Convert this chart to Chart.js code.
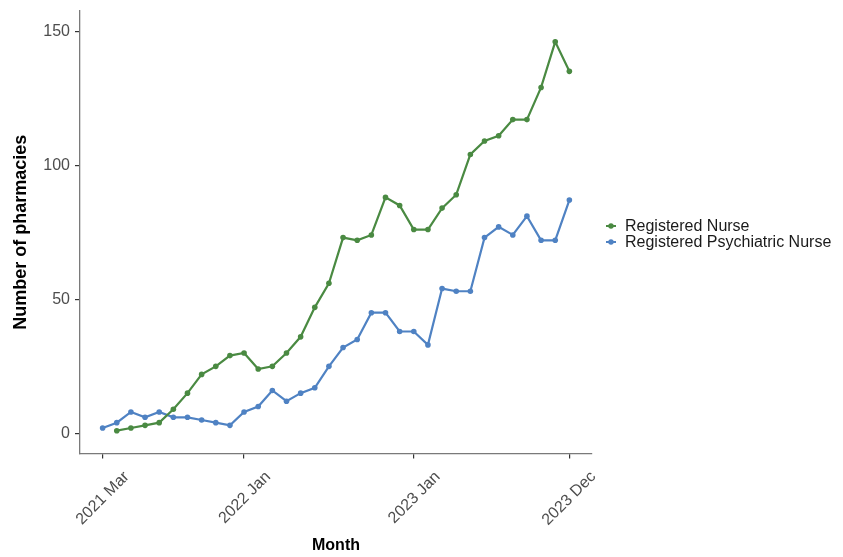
<!DOCTYPE html>
<html>
<head>
<meta charset="utf-8">
<script src="https://cdn.jsdelivr.net/npm/chart.js@4.4.1/dist/chart.umd.min.js"></script>
<style>
  html, body { margin: 0; padding: 0; background: #ffffff; }
  canvas { display: block; }
</style>
</head>
<body>
<canvas id="chart" width="843" height="557"></canvas>
<script>
// Monthly counts, March 2021 to December 2023
const months = [
  '2021 Mar', '2021 Apr', '2021 May', '2021 Jun', '2021 Jul', '2021 Aug',
  '2021 Sep', '2021 Oct', '2021 Nov', '2021 Dec',
  '2022 Jan', '2022 Feb', '2022 Mar', '2022 Apr', '2022 May', '2022 Jun',
  '2022 Jul', '2022 Aug', '2022 Sep', '2022 Oct', '2022 Nov', '2022 Dec',
  '2023 Jan', '2023 Feb', '2023 Mar', '2023 Apr', '2023 May', '2023 Jun',
  '2023 Jul', '2023 Aug', '2023 Sep', '2023 Oct', '2023 Nov', '2023 Dec'
];

const registeredNurse = [
  null, 1, 2, 3, 4, 9, 15, 22, 25, 29,
  30, 24, 25, 30, 36, 47, 56, 73, 72, 74, 88, 85,
  76, 76, 84, 89, 104, 109, 111, 117, 117, 129, 146, 135
];

const registeredPsychiatricNurse = [
  2, 4, 8, 6, 8, 6, 6, 5, 4, 3,
  8, 10, 16, 12, 15, 17, 25, 32, 35, 45, 45, 38,
  38, 33, 54, 53, 53, 73, 77, 74, 81, 72, 72, 87
];

const xTickMonths = ['2021 Mar', '2022 Jan', '2023 Jan', '2023 Dec'];
const yTickValues = [0, 50, 100, 150];

const seriesNames = ['Registered Nurse', 'Registered Psychiatric Nurse'];
const seriesColors = ['#4a8a42', '#4f82c3'];

const FONT = '"Liberation Sans", Arial, Helvetica, sans-serif';

function toPoints(values) {
  const pts = [];
  values.forEach((v, i) => { if (v !== null) pts.push({ x: i, y: v }); });
  return pts;
}

// Legend on the right: short line with a dot, then the series name
const sideLegend = {
  id: 'sideLegend',
  afterDraw(chart) {
    const ctx = chart.ctx;
    const rows = [226, 242];
    ctx.save();
    ctx.font = '16px ' + FONT;
    ctx.textBaseline = 'middle';
    ctx.textAlign = 'left';
    chart.data.datasets.forEach((ds, i) => {
      const y = rows[i];
      ctx.strokeStyle = ds.borderColor;
      ctx.lineWidth = 2;
      ctx.beginPath();
      ctx.moveTo(606, y);
      ctx.lineTo(616, y);
      ctx.stroke();
      ctx.fillStyle = ds.borderColor;
      ctx.beginPath();
      ctx.arc(611, y, 2.7, 0, Math.PI * 2);
      ctx.fill();
      ctx.fillStyle = '#1a1a1a';
      ctx.fillText(ds.label, 625, y + 0.5);
    });
    ctx.restore();
  }
};

const axisTickColor = '#4d4d4d';

new Chart(document.getElementById('chart'), {
  type: 'line',
  data: {
    datasets: [
      {
        label: seriesNames[0],
        data: toPoints(registeredNurse),
        borderColor: seriesColors[0],
        backgroundColor: seriesColors[0],
        pointBackgroundColor: seriesColors[0]
      },
      {
        label: seriesNames[1],
        data: toPoints(registeredPsychiatricNurse),
        borderColor: seriesColors[1],
        backgroundColor: seriesColors[1],
        pointBackgroundColor: seriesColors[1]
      }
    ]
  },
  options: {
    responsive: false,
    devicePixelRatio: 1,
    animation: false,
    layout: { padding: { left: 0, top: 11, right: 251, bottom: 0 } },
    elements: {
      line: { tension: 0, borderWidth: 2.2, fill: false },
      point: { radius: 2.8, borderWidth: 0, hoverRadius: 2.8 }
    },
    plugins: {
      legend: { display: false },
      tooltip: { enabled: false }
    },
    scales: {
      x: {
        type: 'linear',
        min: -1.6,
        max: 34.6,
        afterFit(scale) { scale.height = 103.5; },
        afterBuildTicks(scale) {
          scale.ticks = xTickMonths.map(m => ({ value: months.indexOf(m) }));
        },
        ticks: {
          autoSkip: false,
          minRotation: 45,
          maxRotation: 45,
          padding: 9,
          labelOffset: 24,
          color: axisTickColor,
          font: { family: FONT, size: 16 },
          callback: (v) => months[v]
        },
        grid: {
          display: true,
          drawOnChartArea: false,
          drawTicks: true,
          tickLength: 5,
          color: '#333333',
          lineWidth: 1.2
        },
        border: { display: true, color: '#7a7a7a', width: 1.3 },
        title: {
          display: true,
          text: 'Month',
          color: '#000000',
          font: { family: FONT, size: 16, weight: 'bold' },
          padding: { top: 0, bottom: 1.5 }
        }
      },
      y: {
        type: 'linear',
        min: -7.5,
        max: 157.5,
        afterFit(scale) {
          scale.width = 80;
          scale.paddingTop = 0;
          scale.paddingBottom = 0;
        },
        afterBuildTicks(scale) {
          scale.ticks = yTickValues.map(v => ({ value: v }));
        },
        ticks: {
          padding: 5,
          color: axisTickColor,
          font: { family: FONT, size: 16 }
        },
        grid: {
          display: true,
          drawOnChartArea: false,
          drawTicks: true,
          tickLength: 5,
          color: '#333333',
          lineWidth: 1.2
        },
        border: { display: true, color: '#7a7a7a', width: 1.3 },
        title: {
          display: true,
          text: 'Number of pharmacies',
          color: '#000000',
          font: { family: FONT, size: 18, weight: 'bold' },
          padding: { top: 10.5, bottom: 0 }
        }
      }
    }
  },
  plugins: [sideLegend]
});
</script>
</body>
</html>
